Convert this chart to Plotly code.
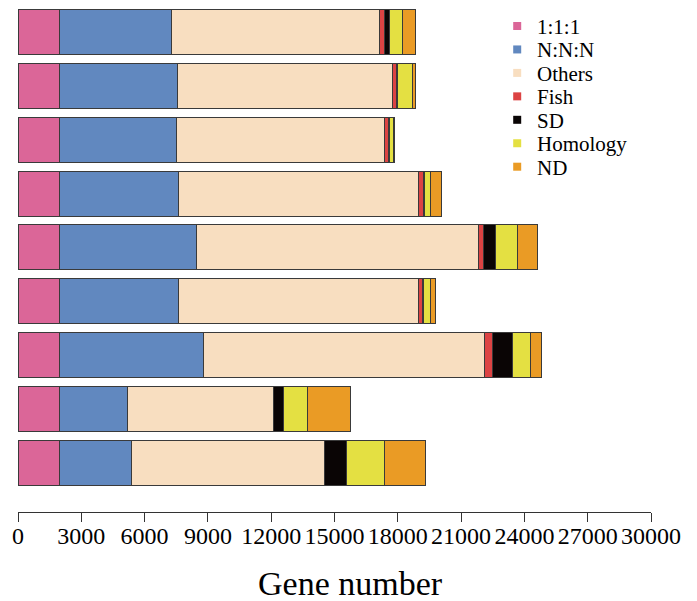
import plotly.graph_objects as go

# ---- data ----
samples = ["S1", "S2", "S3", "S4", "S5", "S6", "S7", "S8", "S9"]
series_names = ["1:1:1", "N:N:N", "Others", "Fish", "SD", "Homology", "ND"]
v_111 = [1943, 1943, 1943, 1943, 1943, 1943, 1943, 1943, 1943]
v_nnn = [5327, 5612, 5545, 5659, 6540, 5640, 6825, 3223, 3431]
v_others = [9839, 10189, 9858, 11389, 13365, 11393, 13350, 6952, 9147]
v_fish = [237, 190, 223, 236, 237, 218, 380, 0, 0]
v_sd = [270, 75, 30, 40, 555, 40, 924, 460, 1057]
v_homology = [616, 683, 206, 292, 1038, 311, 848, 1119, 1768]
v_nd = [616, 156, 24, 507, 929, 265, 555, 2038, 1943]
tick_values = [0, 3000, 6000, 9000, 12000, 15000, 18000, 21000, 24000, 27000, 30000]

series_values = [v_111, v_nnn, v_others, v_fish, v_sd, v_homology, v_nd]
colors = ["#DB6698", "#6188BF", "#F8DEC0", "#DC4343", "#0A0505", "#E4E042", "#EA9B25"]

FONT = "Liberation Serif, Times New Roman, serif"
W, H = 697, 601
ML, MR, MT, MB = 18.3, 45.7, 0, 89
PW = W - ML - MR
PH = H - MT - MB

fig = go.Figure()
for name, vals, col in zip(series_names, series_values, colors):
    fig.add_trace(go.Bar(
        y=samples, x=vals, name=name, orientation="h",
        marker=dict(color=col, line=dict(color="#3a3a3a", width=1)),
        showlegend=False,
    ))

# manual legend (swatch + label)
def px2paper(px, py):
    return (px - ML) / PW, 1 - (py - MT) / PH

shapes = []
annotations = []
for i, (name, col) in enumerate(zip(series_names, colors)):
    cy = 26 + 23.45 * i
    x0, y0 = px2paper(513.5, cy - 4)
    x1, y1 = px2paper(521.5, cy + 4)
    shapes.append(dict(type="rect", xref="paper", yref="paper",
                       x0=x0, x1=x1, y0=y1, y1=y0,
                       fillcolor=col, line=dict(width=0)))
    tx, ty = px2paper(535.5, cy + 1)
    annotations.append(dict(text=name, xref="paper", yref="paper", x=tx, y=ty,
                            xanchor="left", yanchor="middle", showarrow=False,
                            font=dict(family=FONT, size=21, color="black")))

tx, ty = px2paper(351, 583)
annotations.append(dict(text="Gene number", xref="paper", yref="paper", x=tx, y=ty,
                        xanchor="center", yanchor="middle", showarrow=False,
                        font=dict(family=FONT, size=34, color="black")))

fig.update_layout(
    width=W, height=H,
    margin=dict(l=ML, r=MR, t=MT, b=MB, pad=0),
    barmode="stack", bargap=0.164,
    plot_bgcolor="white", paper_bgcolor="white",
    shapes=shapes, annotations=annotations,
    xaxis=dict(range=[0, 30000], tickvals=tick_values,
               ticktext=[str(t) for t in tick_values], tickangle=0,
               ticks="outside", ticklen=9, tickcolor="#333", tickwidth=1,
               ticklabelstandoff=-7,
               showline=True, linecolor="#333", linewidth=1,
               showgrid=False, zeroline=False,
               tickfont=dict(family=FONT, size=24, color="black")),
    yaxis=dict(categoryorder="array", categoryarray=samples,
               range=[8.92, -0.599], visible=False, showgrid=False, zeroline=False),
)

fig.write_html("out.html", config={"displayModeBar": False},
               post_script="document.body.style.margin='0';document.body.style.padding='0';")
